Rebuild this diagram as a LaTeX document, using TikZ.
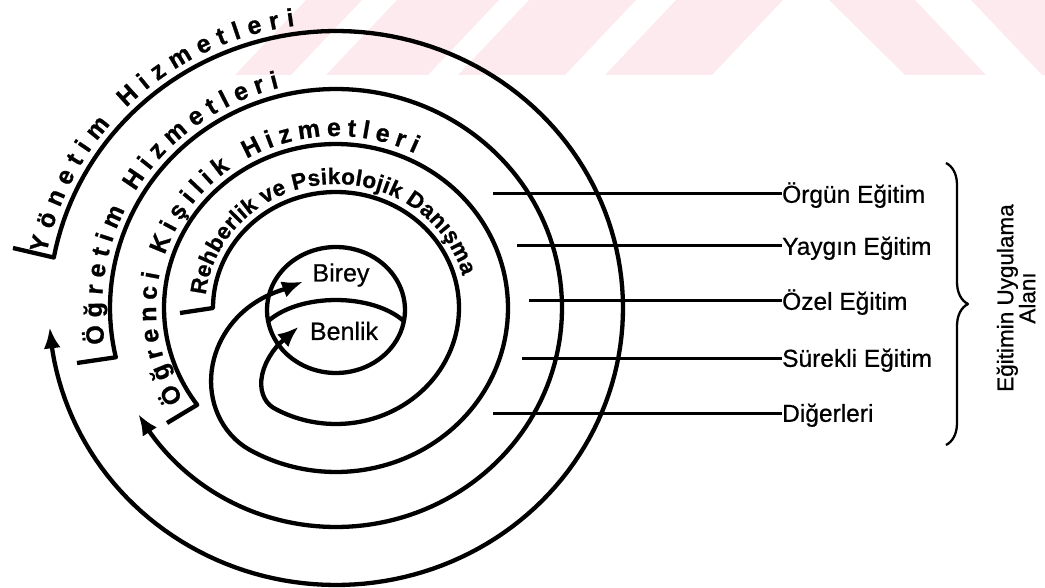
\documentclass[tikz,border=0pt]{standalone}
\usepackage{fontspec}
\setmainfont{Liberation Sans}[FakeBold=0.7,BoldFeatures={FakeBold=0.9}]
\usetikzlibrary{arrows.meta,decorations.text,decorations.pathreplacing}
\definecolor{wmark}{RGB}{253,234,238}
\begin{document}
\begin{tikzpicture}[x=1pt,y=-1pt,
  line join=round,
  spiral/.style={line width=4.3pt,-{Latex[length=21pt,width=17pt]}},
  ring/.style={line width=4.3pt},
  hline/.style={line width=3pt},
  bracestyle/.style={line width=2.3pt,decorate,decoration={brace,amplitude=22pt}},
  lab/.style={font=\fontsize{24.5}{26}\selectfont,inner sep=0pt,anchor=base west},
  core/.style={font=\fontsize{25}{27}\selectfont,inner sep=0pt},
  declare function={
    sc(\t)=max(0,(\t-480)/100);
    rc(\t)=1-0.75*sc(\t)*sc(\t)*(3-2*sc(\t));
    rd(\t)=1-0.00064*max(0,\t-480)*max(0,\t-480);
  }
]
\useasboundingbox (0,0) rectangle (1045,588);
% faint watermark band at the top
\fill[wmark] (235,75) -- (291,75) -- (362,0) -- (306,0) -- cycle;
\fill[wmark] (326,75) -- (428,75) -- (499,0) -- (397,0) -- cycle;
\fill[wmark] (458,75) -- (565,75) -- (636,0) -- (529,0) -- cycle;
\fill[wmark] (605,75) -- (712,75) -- (783,0) -- (676,0) -- cycle;
\fill[wmark] (905,75) -- (986,75) -- (915,0) -- (829,0) -- cycle;
\fill[wmark] (1042,75) -- (1045,75) -- (1045,0) -- (971,0) -- cycle;

\def\cx{336}\def\cy{308}
\def\tf{\fontsize{25}{25}\selectfont\bfseries}
\def\tg{\fontsize{22.5}{22.5}\selectfont\bfseries}

% ---- outer loop: Yonetim
\coordinate (f1) at (13,248);
\coordinate (a1) at ({\cx+287*cos(536)},{\cy+277*sin(536)});
\draw[spiral] (f1) -- plot[domain=190.5:531,samples=170] ({\cx+287*cos(\x)},{\cy+277*sin(\x)}) -- (a1);

% ---- loop 2: Ogretim
\coordinate (f2) at (77,363);
\coordinate (a2) at ({\cx+226*cos(511)},{\cy+219*sin(511)});
\draw[spiral] (f2) -- plot[domain=167:505,samples=170] ({\cx+226*cos(\x)},{\cy+219*sin(\x)}) -- (a2);

% ---- loop 3: Ogrenci Kisilik -> Birey
\coordinate (f3) at (167,423);
\coordinate (a3) at ({\cx+172*rc(580)*cos(580)},{\cy+164*rc(580)*sin(580)});
\draw[spiral] (f3) -- plot[domain=143.8:560,samples=210] ({\cx+172*rc(\x)*cos(\x)},{\cy+164*rc(\x)*sin(\x)}) -- (a3);

% ---- loop 4: Rehberlik -> Benlik
\coordinate (f4) at (180,313);
\coordinate (a4) at ({\cx+123*rd(512)*cos(512)},{\cy+116*rd(512)*sin(512)});
\draw[spiral] (f4) -- plot[domain=180:506,samples=170] ({\cx+123*rd(\x)*cos(\x)},{\cy+116*rd(\x)*sin(\x)}) -- (a4);

% ---- core circle and dividing arc
\draw[ring] plot[domain=0:360,samples=90] ({336+69*cos(\x)},{310+63*sin(\x)}) -- cycle;
\draw[ring] plot[domain=211.8:328.2,samples=40] ({336+80*cos(\x)},{345+45*sin(\x)});

\node[core] (birey) at (341,275) {Birey};
\node[core] (benlik) at (344,331) {Benlik};

% ---- texts along the loops
\path[decorate,decoration={text along path,text align={fit to path},
  text={|\tf|Yönetim Hizmetleri}}]
  plot[domain=191:262,samples=60] ({\cx+295*cos(\x)},{\cy+285*sin(\x)});
\path[decorate,decoration={text along path,text align={fit to path},
  text={|\tf|Öğretim Hizmetleri}}]
  plot[domain=171:256,samples=60] ({\cx+234*cos(\x)},{\cy+227*sin(\x)});
\path[decorate,decoration={text along path,text align={fit to path},
  text={|\tf|Öğrenci Kişilik Hizmetleri}}]
  plot[domain=148:296,samples=80] ({\cx+180*cos(\x)},{\cy+172*sin(\x)});
\path[decorate,decoration={text along path,text align={fit to path},
  text={|\tg|Rehberlik ve Psikolojik Danışma}}]
  plot[domain=186:345,samples=80] ({\cx+131*cos(\x)},{\cy+124*sin(\x)});

% ---- application areas
\foreach \n/\xs/\yy/\txt in {1/493/194/Örgün Eğitim,2/517/246/Yaygın Eğitim,3/529/301/Özel Eğitim,4/522/358/Sürekli Eğitim,5/493/413/Diğerleri}{
  \coordinate (s\n) at (\xs,\yy);
  \node[lab] (e\n) at (782,\yy+8.8) {\txt};
  \draw[hline] (s\n) -- (s\n -| e\n.west);
}

\coordinate (b1) at (946,163);
\coordinate (b2) at (946,445);
\draw[bracestyle] (b1) -- (b2);

\node[font=\fontsize{22.5}{19}\selectfont,rotate=90,align=center,inner sep=0pt] (area) at (1016,298) {Eğitimin Uygulama\\Alanı};
\end{tikzpicture}
\end{document}
